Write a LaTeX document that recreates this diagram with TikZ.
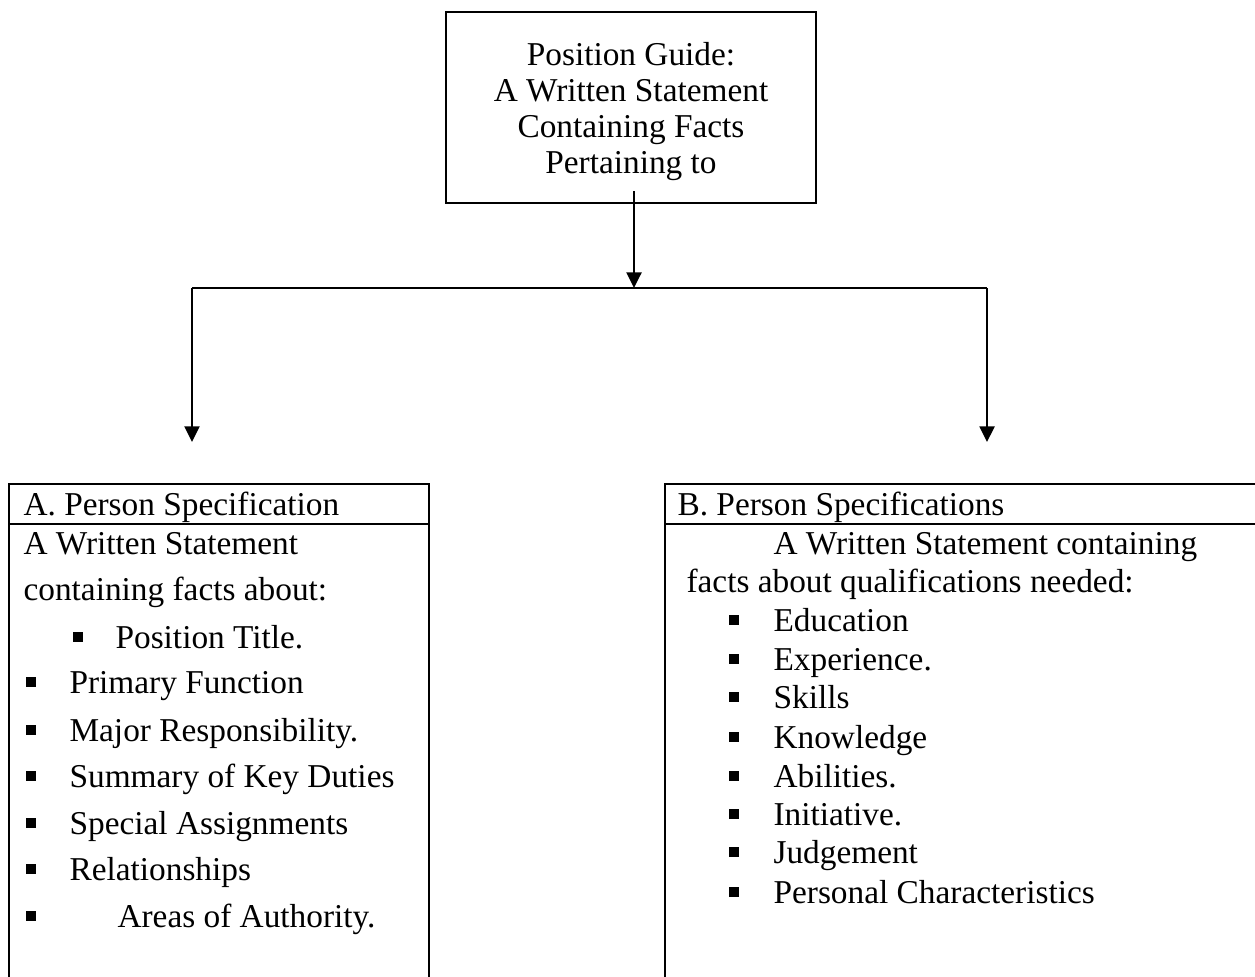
\documentclass[tikz,border=0pt]{standalone}
\usepackage{fontspec}
\setmainfont{Liberation Serif}
\usetikzlibrary{arrows.meta}
\tikzset{
  txt/.style={inner sep=0pt, anchor=base west, font=\fontsize{12}{14}\selectfont},
  sqbullet/.style={fill=black, inner sep=0pt, minimum size=3.6pt, anchor=south west},
  frame/.style={draw=black, line width=0.55pt, inner sep=0pt, anchor=north west},
  link/.style={line width=0.7pt},
  arrow/.style={link, -{Triangle[length=5.6pt, width=5.4pt]}}
}

\begin{document}
\begin{tikzpicture}[x=0.36pt, y=-0.36pt]
  \useasboundingbox (0,0) rectangle (1255,976);
  \clip (0,0) rectangle (1255,976);

  % top box
  \node[frame, anchor=center, minimum width=133.2pt, minimum height=68.8pt] (guide) at (631,107.5) {};
  \node[align=center, inner sep=0pt, font=\fontsize{12}{12.96}\selectfont] (guidetxt) at (631,112)
       {Position Guide:\\ A Written Statement\\ Containing Facts\\ Pertaining to};

  % connectors
  \coordinate (stem) at (634,191);
  \coordinate (split) at (634,288);
  \coordinate (left) at (192,288);
  \coordinate (right) at (987,288);
  \coordinate (leftend) at (192,442);
  \coordinate (rightend) at (987,442);
  \draw[arrow] (stem) -- (split);
  \draw[link] (left) -- (right);
  \draw[arrow] (left) -- (leftend);
  \draw[arrow] (right) -- (rightend);

  % box A
  \node[frame, minimum width=151.2pt, minimum height=14.4pt] (headA) at (8,483) {};
  \node[frame, minimum width=151.2pt, minimum height=180pt] (bodyA) at (8,523) {};
  \node[txt] (titleA) at (23,515) {A. Person Specification};
  \node[txt] (introA1) at (23,554) {A Written Statement};
  \node[txt] (introA2) at (23,600) {containing facts about:};
  \node[sqbullet] (bulA0) at (72,643) {};
  \node[txt] (itemA0) at (115,648) {Position Title.};
  \foreach \y/\t [count=\i] in {693/Primary Function, 741/Major Responsibility.,
      787/Summary of Key Duties, 834/Special Assignments, 880/Relationships}{
    \node[sqbullet] (bulA\i) at (25,\y-5) {};
    \node[txt] (itemA\i) at (69,\y) {\t};
  }
  \node[sqbullet] (bulA6) at (25,922) {};
  \node[txt] (itemA6) at (117,927) {Areas of Authority.};

  % box B
  \node[frame, minimum width=223.2pt, minimum height=14.4pt] (headB) at (664,483) {};
  \node[frame, minimum width=223.2pt, minimum height=180pt] (bodyB) at (664,523) {};
  \node[txt] (titleB) at (677,515) {B. Person Specifications};
  \node[txt] (introB1) at (773,554) {A Written Statement containing};
  \node[txt] (introB2) at (686,592) {facts about qualifications needed:};
  \foreach \y/\t [count=\i] in {631/Education, 670/Experience., 708/Skills,
      748/Knowledge, 787/Abilities., 825/Initiative., 863/Judgement,
      903/Personal Characteristics}{
    \node[sqbullet] (bulB\i) at (728,\y-5) {};
    \node[txt] (itemB\i) at (773,\y) {\t};
  }
\end{tikzpicture}
\end{document}
